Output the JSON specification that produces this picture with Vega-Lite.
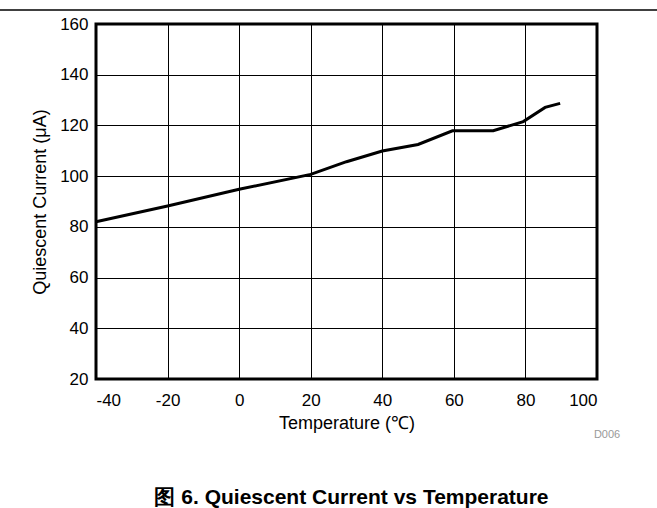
{
  "$schema": "https://vega.github.io/schema/vega-lite/v6.json",
  "autosize": {"type": "none"},
  "width": 501,
  "height": 355,
  "padding": {"left": 96, "top": 24, "right": 60, "bottom": 129},
  "background": "white",
  "config": {
    "font": "Liberation Sans",
    "view": {"stroke": "black", "strokeWidth": 3},
    "axis": {
      "labelFont": "Liberation Sans",
      "titleFont": "Liberation Sans",
      "labelFontSize": 17,
      "titleFontSize": 18,
      "titleFontWeight": "normal",
      "labelColor": "black",
      "titleColor": "black",
      "domain": false,
      "ticks": false,
      "grid": true,
      "gridColor": "black",
      "gridOpacity": 1,
      "gridWidth": 1,
      "labelExpr": "'' + datum.value"
    }
  },
  "title": {
    "text": "图 6. Quiescent Current vs Temperature",
    "orient": "bottom",
    "anchor": "middle",
    "font": "Liberation Sans",
    "fontSize": 21,
    "fontWeight": "bold",
    "color": "black",
    "offset": 47,
    "dx": 5
  },
  "data": {
    "values": [
      {"t": -40, "i": 82.0},
      {"t": -20, "i": 88.2},
      {"t": 0, "i": 94.8},
      {"t": 20, "i": 100.7},
      {"t": 30, "i": 105.7},
      {"t": 40, "i": 109.9},
      {"t": 50, "i": 112.5},
      {"t": 59.6, "i": 117.9},
      {"t": 71, "i": 117.9},
      {"t": 79.4, "i": 121.5},
      {"t": 85.5, "i": 127.1},
      {"t": 89.7, "i": 128.7}
    ]
  },
  "layer": [
    {
      "mark": {"type": "line", "color": "black", "strokeWidth": 3},
      "encoding": {
        "x": {
          "field": "t", "type": "quantitative",
          "scale": {"domain": [-40, 100], "nice": false},
          "axis": {"values": [-40, -20, 0, 20, 40, 60, 80, 100], "title": "Temperature (℃)", "labelPadding": 13, "titlePadding": 6}
        },
        "y": {
          "field": "i", "type": "quantitative",
          "scale": {"domain": [20, 160], "nice": false, "zero": false},
          "axis": {"values": [20, 40, 60, 80, 100, 120, 140, 160], "title": "Quiescent Current (μA)", "labelPadding": 8, "titlePadding": 10}
        }
      }
    },
    {
      "data": {"values": [{"x1": -67, "x2": 117, "y": 165.5}]},
      "mark": {"type": "rule", "color": "black", "strokeWidth": 1.5, "clip": false},
      "encoding": {
        "x": {"field": "x1", "type": "quantitative"},
        "x2": {"field": "x2"},
        "y": {"field": "y", "type": "quantitative"}
      }
    },
    {
      "data": {"values": [{"t": 102.8, "i": -2, "label": "D006"}]},
      "mark": {"type": "text", "color": "#999999", "fontSize": 11, "font": "Liberation Sans", "clip": false},
      "encoding": {
        "x": {"field": "t", "type": "quantitative"},
        "y": {"field": "i", "type": "quantitative"},
        "text": {"field": "label"}
      }
    }
  ]
}
